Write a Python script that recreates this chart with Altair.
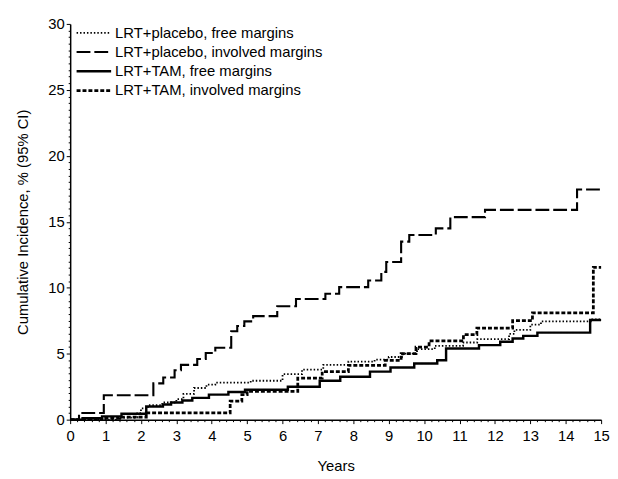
import altair as alt
import pandas as pd

series_names = [
    "LRT+placebo, free margins",
    "LRT+placebo, involved margins",
    "LRT+TAM, free margins",
    "LRT+TAM, involved margins",
]

placebo_free_years = [0, 1.3, 1.9, 2.0, 2.2, 2.6, 3.0, 3.2, 3.5, 3.85, 4.1, 5.1, 6.0, 6.55, 7.15, 7.86, 8.6, 9.0, 9.4, 9.8, 10.3, 11.1, 11.5, 12.4, 12.55, 13.0, 13.3, 14.75, 15]
placebo_free_values = [0, 0.15, 0.5, 0.85, 1.1, 1.3, 1.55, 1.95, 2.4, 2.65, 2.8, 2.95, 3.45, 3.8, 4.15, 4.4, 4.55, 4.75, 5.0, 5.35, 5.6, 5.85, 6.1, 6.5, 6.8, 7.2, 7.45, 7.6, 7.6]

placebo_inv_years = [0, 0.25, 0.95, 2.35, 2.63, 2.95, 3.13, 3.59, 3.83, 4.1, 4.55, 4.72, 4.92, 5.17, 5.85, 6.38, 7.21, 7.6, 8.42, 8.79, 8.93, 9.35, 9.58, 10.33, 10.74, 11.72, 14.32, 15]
placebo_inv_values = [0, 0.5, 1.85, 2.75, 3.2, 3.75, 4.15, 4.6, 5.05, 5.45, 6.7, 7.1, 7.45, 7.85, 8.6, 9.15, 9.55, 10.05, 10.55, 11.2, 11.95, 13.5, 14.0, 14.5, 15.35, 15.9, 17.45, 17.45]

tam_free_years = [0, 0.35, 0.9, 1.45, 2.15, 2.62, 2.85, 3.17, 3.45, 3.92, 4.47, 4.94, 6.15, 7.05, 7.63, 8.47, 9.05, 9.72, 10.37, 10.62, 11.55, 12.15, 12.5, 12.8, 13.2, 14.69, 15]
tam_free_values = [0, 0.1, 0.25, 0.45, 1.0, 1.15, 1.3, 1.45, 1.65, 1.9, 2.1, 2.27, 2.5, 2.95, 3.25, 3.64, 3.95, 4.26, 4.5, 5.4, 5.65, 5.9, 6.15, 6.35, 6.6, 7.55, 7.55]

tam_inv_years = [0, 0.9, 1.4, 2.15, 4.52, 4.85, 5.0, 6.43, 7.12, 7.86, 8.9, 9.35, 9.77, 10.14, 11.11, 11.49, 12.5, 13.06, 14.78, 15]
tam_inv_values = [0, 0.1, 0.2, 0.52, 1.4, 1.9, 2.15, 3.14, 3.65, 4.12, 4.5, 5.0, 5.5, 5.97, 6.45, 6.93, 7.5, 8.1, 11.55, 11.55]

x_tick_values = [round(i * 0.2, 6) for i in range(76)]
y_tick_values = [i * 0.5 for i in range(61)]

rows = []
for name, ys, vs in zip(
    series_names,
    [placebo_free_years, placebo_inv_years, tam_free_years, tam_inv_years],
    [placebo_free_values, placebo_inv_values, tam_free_values, tam_inv_values],
):
    for t, v in zip(ys, vs):
        rows.append({"series": name, "year": t, "value": v})
df = pd.DataFrame(rows)

FONT = "Liberation Sans"

legend = alt.Legend(
    title=None,
    orient="none",
    legendX=16.5,
    legendY=1.5,
    symbolType="M-5,0H5",
    symbolSize=49,
    symbolStrokeColor="black",
    symbolFillColor="transparent",
    labelFont=FONT,
    labelFontSize=15,
    labelColor="black",
    labelOffset=14,
    labelLimit=500,
    rowPadding=3.5,
    padding=0,
)

chart = (
    alt.Chart(df)
    .mark_line(interpolate="step-after", color="black", strokeCap="butt")
    .encode(
        x=alt.X(
            "year:Q",
            scale=alt.Scale(domain=[0, 15], nice=False),
            axis=alt.Axis(
                values=x_tick_values,
                title="Years",
                labelExpr="abs(datum.value - round(datum.value)) < 0.001 ? '' + round(datum.value) : ''",
                labelOverlap=False,
                labelFlush=False,
                tickSize={"condition": {"test": "abs(datum.value - round(datum.value)) < 0.001", "value": 4}, "value": 2},
                tickColor="black",
                tickWidth=1,
                domainColor="black",
                domainWidth=1.5,
                grid=False,
                labelFont=FONT,
                labelFontSize=15,
                labelColor="black",
                labelPadding=5,
                titleFont=FONT,
                titleFontSize=15,
                titleFontWeight="normal",
                titleColor="black",
                titlePadding=16,
            ),
        ),
        y=alt.Y(
            "value:Q",
            scale=alt.Scale(domain=[0, 30], nice=False),
            axis=alt.Axis(
                values=y_tick_values,
                title="Cumulative Incidence, % (95% CI)",
                labelExpr="datum.value % 5 === 0 ? '' + datum.value : ''",
                labelOverlap=False,
                labelFlush=False,
                tickSize={"condition": {"test": "datum.value % 5 === 0", "value": 4}, "value": 2},
                tickColor="black",
                tickWidth=1,
                domainColor="black",
                domainWidth=1.5,
                grid=False,
                labelFont=FONT,
                labelFontSize=15,
                labelColor="black",
                labelPadding=2,
                titleFont=FONT,
                titleFontSize=15,
                titleFontWeight="normal",
                titleColor="black",
                titlePadding=18,
            ),
        ),
        strokeDash=alt.StrokeDash(
            "series:N",
            scale=alt.Scale(domain=series_names, range=[[1.5, 2], [14, 4], [1, 0], [4, 2]]),
            legend=legend,
        ),
        strokeWidth=alt.StrokeWidth(
            "series:N",
            scale=alt.Scale(domain=series_names, range=[1.8, 2.8, 3.0, 2.4]),
            legend=legend,
        ),
    )
    .properties(
        width=538,
        height=401,
        padding={"left": 63, "top": 13, "right": 9, "bottom": 57},
        autosize=alt.AutoSizeParams(type="none"),
        background="white",
    )
    .configure_view(stroke=None)
)

chart.save("out.html", embed_options={"renderer": "svg", "actions": False})
